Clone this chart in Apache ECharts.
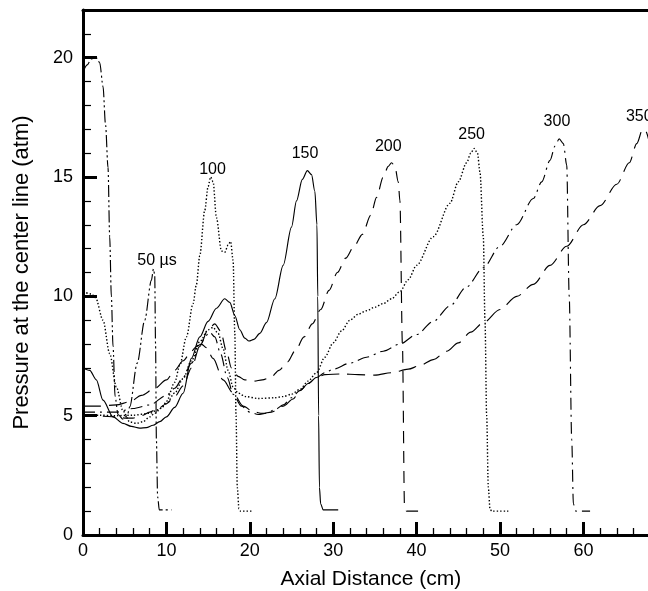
<!DOCTYPE html>
<html><head><meta charset="utf-8">
<script src="https://cdn.jsdelivr.net/npm/echarts@6/dist/echarts.min.js"></script>
<style>html,body{margin:0;padding:0;background:#fff}#c{width:648px;height:591px}</style>
</head><body><div id="c"></div>
<script>
// Axial distance (cm) and pressure (atm) samples
const x50 = [0, 0.5, 1.0, 1.6, 2.0, 2.4, 2.7, 3.0, 3.2, 3.4, 3.6, 3.85, 4.2, 4.8, 5.3, 5.6, 6.5, 7.4, 8.2, 8.45, 8.6, 8.7, 8.8, 8.95, 9.15, 10.6];
const p50 = [19.4, 19.7, 19.95, 20.0, 19.8, 18.8, 17.2, 15.4, 12.5, 10.0, 7.9, 5.8, 5.05, 4.85, 5.0, 5.37, 7.2, 9.0, 10.67, 11.15, 10.9, 8.0, 4.0, 1.6, 1.05, 1.05];

const x100 = [0, 1.0, 1.5, 2.4, 3.2, 4.0, 4.8, 5.6, 6.4, 7.2, 8.0, 8.6, 9.5, 10.0, 11.0, 11.6, 12.4, 13.2, 13.6, 14.0, 14.6, 15.0, 15.3, 15.6, 16.0, 16.6, 17.0, 17.4, 17.7, 18.0, 18.2, 18.35, 18.5, 18.7, 18.9, 20.2];
const p100 = [10.2, 10.1, 9.95, 9.0, 7.6, 6.2, 5.2, 4.74, 4.68, 4.75, 4.95, 5.1, 5.35, 5.6, 6.4, 7.1, 8.3, 9.7, 10.5, 11.7, 13.6, 14.6, 15.0, 14.8, 13.3, 11.9, 11.85, 12.15, 12.3, 11.5, 8.5, 5.0, 2.0, 1.1, 1.0, 1.0];

const x150 = [0, 0.8, 1.6, 2.4, 3.6, 4.8, 5.8, 6.8, 7.6, 8.4, 9.2, 10.0, 11.0, 12.0, 13.0, 14.0, 15.0, 16.0, 17.0, 17.6, 18.2, 18.8, 19.4, 19.9, 20.5, 21.2, 22.0, 23.0, 24.0, 25.0, 25.6, 26.3, 26.9, 27.4, 27.8, 28.05, 28.15, 28.25, 28.35, 28.5, 28.8, 30.6];
const p150 = [7.0, 6.9, 6.5, 5.65, 4.95, 4.68, 4.55, 4.48, 4.5, 4.6, 4.75, 4.95, 5.35, 5.94, 7.4, 8.3, 8.95, 9.5, 9.9, 9.75, 9.2, 8.6, 8.25, 8.13, 8.2, 8.45, 8.9, 9.9, 11.3, 12.9, 14.0, 14.9, 15.27, 15.1, 14.4, 13.0, 10.0, 5.0, 2.0, 1.3, 1.05, 1.05];

const x200 = [0, 2, 4, 5, 6, 7, 8, 9, 10, 11, 12, 13, 14, 15, 15.8, 16.5, 17.2, 17.8, 18.6, 19.4, 20.5, 21.5, 22.5, 23.5, 24.5, 25.5, 26.5, 27.5, 28.5, 29.5, 30.5, 31.5, 32.5, 33.5, 34.5, 35.2, 36, 36.6, 37, 37.4, 37.8, 38.0, 38.3, 38.55, 38.8, 40.6];
const p200 = [4.98, 4.98, 4.95, 4.9, 4.9, 5.0, 5.15, 5.3, 5.5, 5.8, 6.25, 7.0, 7.9, 8.6, 8.85, 8.55, 7.7, 7.0, 6.65, 6.5, 6.45, 6.5, 6.6, 6.9, 7.25, 7.75, 8.3, 8.85, 9.45, 10.25, 11.0, 11.6, 12.1, 12.6, 13.4, 14.15, 15.0, 15.45, 15.6, 15.45, 14.8, 14.0, 8.0, 1.2, 1.0, 1.0];

const x250 = [0, 2, 4, 6, 8, 9, 10, 11, 12, 13, 14, 15, 15.6, 16.2, 16.8, 17.4, 18, 18.6, 19.5, 21, 23, 24, 25, 26, 27, 28, 29, 30, 31, 32, 33, 34, 35, 36, 37, 38, 39, 40, 42, 44, 45, 46, 46.5, 46.9, 47.3, 47.6, 48.0, 48.2, 48.4, 48.6, 48.8, 49.0, 51.0];
const p250 = [5.02, 5.02, 5.0, 5.02, 5.1, 5.25, 5.5, 5.95, 6.55, 7.3, 8.1, 8.6, 8.7, 8.45, 7.8, 6.9, 6.2, 5.95, 5.8, 5.72, 5.75, 5.8, 5.9, 6.1, 6.45, 6.8, 7.45, 8.05, 8.55, 9.0, 9.25, 9.4, 9.55, 9.7, 9.9, 10.2, 10.7, 11.3, 12.5, 13.9, 14.8, 15.6, 16.0, 16.2, 16.0, 15.2, 12.5, 9.0, 5.0, 2.0, 1.1, 1.0, 1.0];

const x300 = [0, 2, 4, 6, 8, 10, 11, 12, 13, 14, 14.7, 15.2, 15.8, 16.5, 17.3, 18, 19, 20, 21, 22, 23, 24, 25, 26, 27, 28, 29, 30, 32, 34, 36, 38, 40, 42, 44, 46, 48, 50, 52, 54, 55, 56, 56.6, 57.1, 57.6, 58.0, 58.3, 58.6, 58.8, 59.1, 60.8];
const p300 = [5.15, 5.15, 5.15, 5.3, 5.45, 5.85, 6.15, 6.6, 7.2, 7.9, 8.35, 8.5, 8.3, 7.6, 6.6, 5.9, 5.4, 5.15, 5.05, 5.1, 5.25, 5.45, 5.75, 6.05, 6.35, 6.6, 6.8, 6.95, 7.2, 7.45, 7.7, 8.0, 8.4, 8.95, 9.6, 10.4, 11.2, 12.1, 13.0, 14.1, 14.8, 15.7, 16.3, 16.6, 16.4, 15.5, 10.0, 4.0, 1.3, 1.0, 1.0];

const x350 = [0, 2, 4, 5.6, 7, 8.6, 10, 11, 12, 13, 13.6, 14.2, 14.8, 15.6, 16.8, 18, 19.2, 20.5, 21.5, 22.6, 24, 25.2, 26, 27, 28, 29, 31, 33, 35, 37, 39, 40.4, 42, 43.6, 45, 46.5, 48, 50, 52, 54, 56, 58, 60, 62, 64, 65.5, 66.4, 67.1, 67.5, 67.8];
const p350 = [5.4, 5.4, 5.45, 5.58, 5.85, 6.14, 6.5, 6.9, 7.3, 7.7, 7.9, 8.0, 7.85, 7.4, 6.5, 5.95, 5.4, 5.15, 5.1, 5.15, 5.4, 5.7, 6.05, 6.35, 6.6, 6.72, 6.75, 6.72, 6.7, 6.8, 6.95, 7.1, 7.35, 7.7, 8.05, 8.5, 8.9, 9.45, 10.0, 10.5, 11.3, 12.1, 13.0, 13.8, 14.7, 15.6, 16.4, 17.0, 16.9, 16.6];

// Curve annotations (time after ignition)
const lblText = ['50 \u00b5s', '100', '150', '200', '250', '300', '350'];
const lblX = [8.87, 15.53, 26.62, 36.6, 46.6, 56.83, 66.7];
const lblY = [11.51, 15.31, 16.0, 16.28, 16.78, 17.34, 17.53];

// Axis ticks
const xMajor = 10, xMinor = 2, xMin = 0, xMax = 70;
const yMajor = 5, yMinor = 1, yMin = 0, yMax = 22;

const pair = (xs, ys) => xs.map((x, i) => [x, ys[i]]);
const FONT = '"Liberation Sans", Arial, Helvetica, sans-serif';

const curves = [
  {x: x50, y: p50, dash: [12, 3, 2, 3, 2, 3], w: 1.15},
  {x: x100, y: p100, dash: [1.4, 2], w: 1.4},
  {x: x150, y: p150, dash: 'solid', w: 1.15},
  {x: x200, y: p200, dash: [12, 8], w: 1.15},
  {x: x250, y: p250, dash: [1.4, 2], w: 1.4},
  {x: x300, y: p300, dash: [12, 5, 2, 5], w: 1.15},
  {x: x350, y: p350, dash: [18, 8], w: 1.15}
];

const grid = {left: 83, top: 10, width: 583.8, height: 525, outerBoundsMode: 'none', containLabel: false};
const chart = echarts.init(document.getElementById('c'), null, {renderer: 'canvas'});
chart.setOption({
  animation: false,
  backgroundColor: '#fff',
  grid: [Object.assign({}, grid), Object.assign({}, grid)],
  xAxis: [
    {gridIndex: 0, type: 'value', position: 'bottom', min: xMin, max: xMax, interval: xMajor,
     name: 'Axial Distance (cm)', nameLocation: 'middle', nameGap: 34,
     nameTextStyle: {fontFamily: FONT, fontSize: 21, color: '#000', padding: [0, 8, 0, 0]},
     axisLine: {lineStyle: {color: '#000', width: 3}},
     axisTick: {inside: true, length: 13, lineStyle: {color: '#000', width: 3}},
     axisLabel: {fontFamily: FONT, fontSize: 18, color: '#000', margin: 7,
                 formatter: v => (v % xMajor === 0 && v < xMax ? String(v) : '')},
     splitLine: {show: false}},
    {gridIndex: 1, type: 'value', position: 'bottom', min: xMin, max: xMax, interval: xMinor,
     axisLine: {show: false},
     axisTick: {inside: true, length: 7, lineStyle: {color: '#000', width: 1.3}},
     axisLabel: {show: false}, splitLine: {show: false}},
    {gridIndex: 1, type: 'value', position: 'top', min: xMin, max: xMax, interval: xMajor,
     axisLine: {lineStyle: {color: '#000', width: 3}},
     axisTick: {show: false}, axisLabel: {show: false}, splitLine: {show: false}}
  ],
  yAxis: [
    {gridIndex: 0, type: 'value', position: 'left', min: yMin, max: yMax, interval: yMajor,
     name: 'Pressure at the center line (atm)', nameLocation: 'middle', nameGap: 50, nameRotate: 90,
     nameTextStyle: {fontFamily: FONT, fontSize: 22, color: '#000'},
     axisLine: {lineStyle: {color: '#000', width: 3}},
     axisTick: {inside: true, length: 14, lineStyle: {color: '#000', width: 3}},
     axisLabel: {fontFamily: FONT, fontSize: 18, color: '#000', margin: 10,
                 formatter: v => (v % yMajor === 0 ? String(v) : '')},
     splitLine: {show: false}},
    {gridIndex: 1, type: 'value', position: 'left', min: yMin, max: yMax, interval: yMinor,
     axisLine: {show: false},
     axisTick: {inside: true, length: 8, lineStyle: {color: '#000', width: 1.2}},
     axisLabel: {show: false}, splitLine: {show: false}}
  ],
  series: curves.map(c => ({
    type: 'line', xAxisIndex: 0, yAxisIndex: 0, data: pair(c.x, c.y),
    showSymbol: false, symbol: 'none', silent: true, clip: true,
    smooth: 0.3, smoothMonotone: 'x',
    lineStyle: {color: '#000', width: c.w, type: c.dash}
  })).concat([{
    type: 'scatter', xAxisIndex: 0, yAxisIndex: 0, symbolSize: 0.5, silent: true,
    itemStyle: {color: '#fff', opacity: 1},
    label: {show: true, position: 'inside', formatter: p => p.name,
            fontFamily: FONT, fontSize: 16, color: '#000', opacity: 1,
            textBorderWidth: 0, textShadowBlur: 0},
    labelLayout: {hideOverlap: false},
    data: lblText.map((t, i) => ({name: t, value: [lblX[i], lblY[i]]}))
  }])
});
</script></body></html>
